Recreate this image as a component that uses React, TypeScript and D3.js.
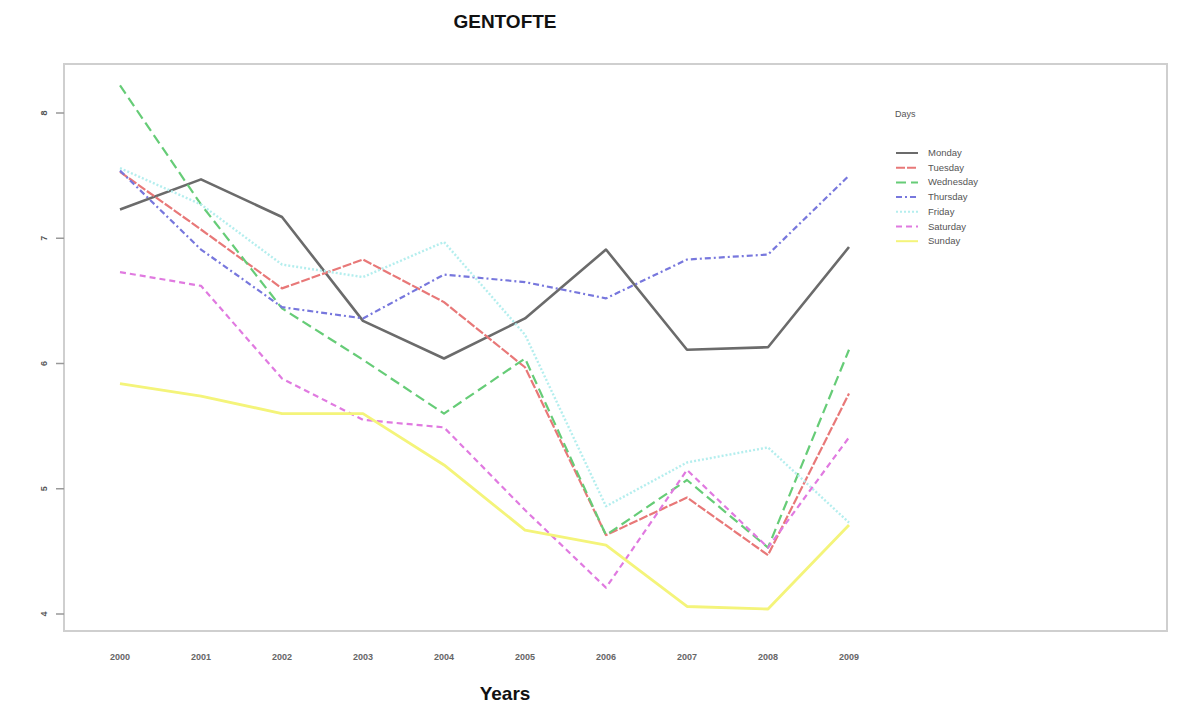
import React from "react";
import * as d3 from "d3";

const years = [2000, 2001, 2002, 2003, 2004, 2005, 2006, 2007, 2008, 2009];
const yTicks = [4, 5, 6, 7, 8];
const dayNames = ["Monday", "Tuesday", "Wednesday", "Thursday", "Friday", "Saturday", "Sunday"];
const monday = [7.23, 7.47, 7.17, 6.34, 6.04, 6.36, 6.91, 6.11, 6.13, 6.93];
const tuesday = [7.53, 7.07, 6.6, 6.83, 6.49, 5.97, 4.63, 4.93, 4.47, 5.76];
const wednesday = [8.22, 7.27, 6.44, 6.03, 5.6, 6.04, 4.63, 5.07, 4.53, 6.11];
const thursday = [7.54, 6.91, 6.45, 6.36, 6.71, 6.65, 6.52, 6.83, 6.87, 7.5];
const friday = [7.56, 7.27, 6.79, 6.69, 6.97, 6.23, 4.86, 5.21, 5.33, 4.73];
const saturday = [6.73, 6.62, 5.88, 5.55, 5.49, 4.83, 4.21, 5.15, 4.53, 5.41];
const sunday = [5.84, 5.74, 5.6, 5.6, 5.19, 4.67, 4.55, 4.06, 4.04, 4.71];

const seriesValues = [monday, tuesday, wednesday, thursday, friday, saturday, sunday];
const colors = ["#6b6b6b", "#e87878", "#66cc77", "#7777dd", "#b4eeee", "#e07ae0", "#f4f47a"];
const dashes = ["", "9,2", "10,5", "6,3,2,3", "2,2", "6,4", ""];
const widths = [2.6, 2.2, 2.2, 2.2, 2.4, 2.2, 2.8];

export default function App() {
  const W = 1199, H = 710;
  const x = d3.scalePoint<number>().domain(years).range([120, 849]);
  const y = d3.scaleLinear().domain([4, 8]).range([614, 113]);
  const line = d3.line<number>().x((_, i) => x(years[i]) as number).y((d) => y(d));
  return (
    <svg width={W} height={H} style={{ position: "absolute", left: 0, top: 0, background: "#fff" }}
      fontFamily="Liberation Sans, Arial, sans-serif">
      <rect x={0} y={0} width={W} height={H} fill="#fff" />
      <text x={505} y={28} textAnchor="middle" fontSize={19} fontWeight="bold" fill="#111">GENTOFTE</text>
      <rect x={64} y={64} width={1103} height={567} fill="none" stroke="#cfcfcf" strokeWidth={2} />
      {yTicks.map((t) => (
        <g key={t}>
          <line x1={56} x2={64} y1={y(t)} y2={y(t)} stroke="#999" strokeWidth={1.5} />
          <text transform={`translate(47,${y(t)}) rotate(-90)`} textAnchor="middle" fontSize={9}
            fontWeight="bold" fill="#555">{t}</text>
        </g>
      ))}
      {years.map((yr) => (
        <text key={yr} x={x(yr)} y={660} textAnchor="middle" fontSize={9} fontWeight="bold" fill="#666">{yr}</text>
      ))}
      {seriesValues.map((vals, i) => (
        <path key={dayNames[i]} d={line(vals) || ""} fill="none" stroke={colors[i]} strokeWidth={widths[i]}
          strokeDasharray={dashes[i] || undefined} strokeLinejoin="round" />
      ))}
      <text x={895} y={117} fontSize={9} fill="#555">Days</text>
      {dayNames.map((n, i) => {
        const yy = 153 + i * 14.7;
        return (
          <g key={n}>
            <line x1={896} x2={918} y1={yy} y2={yy} stroke={colors[i]} strokeWidth={2}
              strokeDasharray={dashes[i] || undefined} />
            <text x={928} y={yy + 3} fontSize={9.5} fill="#555">{n}</text>
          </g>
        );
      })}
      <text x={505} y={700} textAnchor="middle" fontSize={19} fontWeight="bold" fill="#111">Years</text>
    </svg>
  );
}
